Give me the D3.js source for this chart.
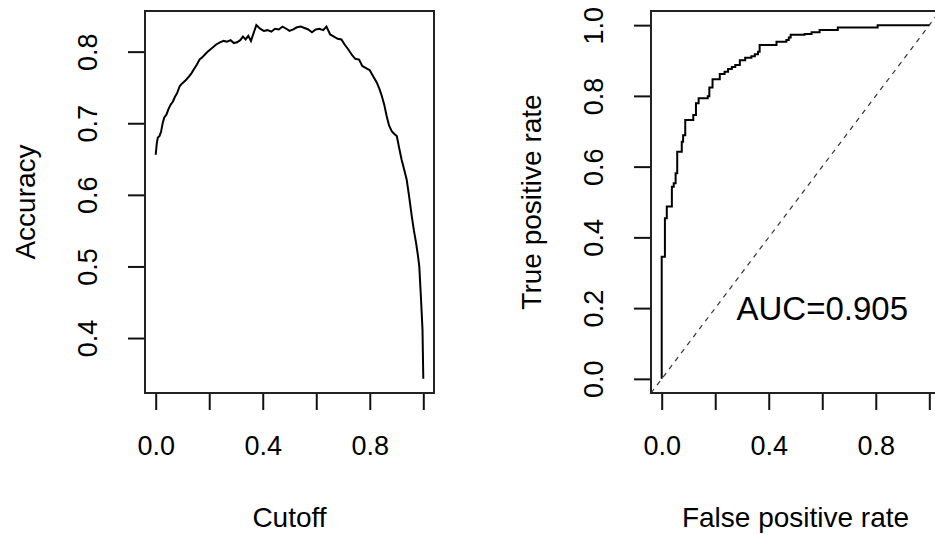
<!DOCTYPE html>
<html>
<head>
<meta charset="utf-8">
<script src="https://cdn.jsdelivr.net/npm/d3@7"></script>
<style>
  body { margin: 0; background: #fff; }
  text { font-family: "Liberation Sans", Arial, sans-serif; fill: #000; }
</style>
</head>
<body>
<svg></svg>
<script>
var width = 935;
var height = 535;

// accuracy vs cutoff
var cutoffs = [0.000, 0.004, 0.008, 0.014, 0.020, 0.026, 0.032, 0.040, 0.048, 0.056,
    0.064, 0.072, 0.080, 0.090, 0.100, 0.112, 0.124, 0.134, 0.144, 0.154,
    0.164, 0.174, 0.184, 0.194, 0.204, 0.214, 0.226, 0.240, 0.254, 0.266,
    0.280, 0.292, 0.304, 0.316, 0.326, 0.336, 0.346, 0.356, 0.366, 0.376,
    0.390, 0.404, 0.418, 0.432, 0.446, 0.460, 0.474, 0.488, 0.500, 0.514,
    0.528, 0.542, 0.556, 0.570, 0.584, 0.598, 0.612, 0.626, 0.638, 0.652,
    0.666, 0.680, 0.694, 0.706, 0.720, 0.734, 0.746, 0.760, 0.772, 0.786,
    0.800, 0.812, 0.826, 0.836, 0.845, 0.854, 0.863, 0.872, 0.882, 0.892,
    0.901, 0.910, 0.919, 0.928, 0.938, 0.947, 0.957, 0.965, 0.973, 0.980,
    0.985, 0.991, 0.997, 1.000];
var accuracy = [0.656, 0.672, 0.680, 0.682, 0.688, 0.700, 0.708, 0.712, 0.720, 0.726,
    0.730, 0.737, 0.742, 0.752, 0.756, 0.760, 0.765, 0.770, 0.776, 0.782,
    0.789, 0.792, 0.796, 0.800, 0.803, 0.806, 0.810, 0.813, 0.815, 0.814,
    0.816, 0.812, 0.813, 0.816, 0.821, 0.817, 0.822, 0.815, 0.826, 0.837,
    0.832, 0.829, 0.830, 0.828, 0.832, 0.831, 0.835, 0.832, 0.829, 0.831,
    0.834, 0.835, 0.833, 0.831, 0.827, 0.831, 0.832, 0.830, 0.835, 0.824,
    0.821, 0.818, 0.817, 0.810, 0.803, 0.795, 0.790, 0.789, 0.780, 0.777,
    0.774, 0.766, 0.757, 0.748, 0.738, 0.726, 0.710, 0.697, 0.689, 0.685,
    0.682, 0.665, 0.649, 0.636, 0.621, 0.598, 0.570, 0.550, 0.533, 0.515,
    0.500, 0.458, 0.412, 0.343];

// ROC curve (stair corners)
var fpr = [0, 0.012, 0.019, 0.038, 0.045, 0.052, 0.058, 0.075, 0.080, 0.088,
    0.118, 0.128, 0.138, 0.172, 0.178, 0.190, 0.217, 0.235, 0.248, 0.262,
    0.275, 0.292, 0.312, 0.335, 0.348, 0.360, 0.366, 0.429, 0.466, 0.475,
    0.482, 0.534, 0.560, 0.590, 0.658, 0.807, 1.000];
var tpr = [0, 0.345, 0.454, 0.487, 0.543, 0.553, 0.581, 0.642, 0.670, 0.689,
    0.732, 0.746, 0.779, 0.793, 0.799, 0.824, 0.847, 0.862, 0.868, 0.876,
    0.882, 0.887, 0.901, 0.908, 0.912, 0.918, 0.925, 0.944, 0.953, 0.958,
    0.965, 0.973, 0.975, 0.980, 0.986, 0.993, 1.000];

var xTicks = [0, 0.2, 0.4, 0.6, 0.8, 1.0];
var xLabeled = [0, 0.4, 0.8];
var accTicks = [0.4, 0.5, 0.6, 0.7, 0.8];
var rocTicks = [0, 0.2, 0.4, 0.6, 0.8, 1.0];
var aucLabel = "AUC=0.905";

var svg = d3.select('svg')
    .attr('width', width)
    .attr('height', height);

svg.append('rect').attr('width', width).attr('height', height).attr('fill', '#fff');

var fmt = d3.format('.1f');

// R style 4% padding
var pad = function (ext) {
    var d = (ext[1] - ext[0]) * 0.04;
    return [ext[0] - d, ext[1] + d];
};

var panel = function (o) {
    var g = svg.append('g').attr('transform', 'translate(' + o.left + ',' + o.top + ')');
    var w = o.w, h = o.h;

    var x = d3.scaleLinear().domain(pad(d3.extent(o.xs))).range([0, w]);
    var y = d3.scaleLinear().domain(pad(d3.extent(o.ys))).range([h, 0]);

    var xa = g.append('g')
        .attr('transform', 'translate(0,' + h + ')')
        .call(d3.axisBottom(x).tickValues(xTicks).tickSize(17)
            .tickFormat(function (d) { return xLabeled.indexOf(d) >= 0 ? fmt(d) : ''; }));
    xa.select('.domain').remove();
    xa.selectAll('line').attr('stroke', '#111').attr('stroke-width', 2);
    xa.selectAll('text').attr('y', 62).attr('dy', null)
        .style('font-size', '27px').style('font-family', '"Liberation Sans", Arial, sans-serif');

    var ya = g.append('g')
        .call(d3.axisLeft(y).tickValues(o.yTicks).tickSize(17).tickFormat(fmt));
    ya.select('.domain').remove();
    ya.selectAll('line').attr('stroke', '#111').attr('stroke-width', 2);
    ya.selectAll('text').attr('x', 0).attr('dy', null)
        .attr('text-anchor', 'middle')
        .attr('transform', 'translate(-48,0) rotate(-90)')
        .style('font-size', '27px').style('font-family', '"Liberation Sans", Arial, sans-serif');

    g.append('text')
        .attr('x', w / 2).attr('y', h + 134)
        .attr('text-anchor', 'middle')
        .style('font-size', '28px')
        .text(o.xTitle);

    g.append('text')
        .attr('transform', 'translate(-110,' + (h / 2) + ') rotate(-90)')
        .attr('text-anchor', 'middle')
        .style('font-size', '28px')
        .text(o.yTitle);

    var clip = 'clip' + o.id;
    g.append('clipPath').attr('id', clip)
        .append('rect').attr('width', w).attr('height', h);
    var plot = g.append('g').attr('clip-path', 'url(#' + clip + ')');

    return { g: g, plot: plot, x: x, y: y, w: w, h: h };
};

// left: accuracy
var p1 = panel({ id: 1, left: 145, top: 11, w: 289, h: 382, xs: cutoffs, ys: accuracy,
    yTicks: accTicks, xTitle: 'Cutoff', yTitle: 'Accuracy' });

var accLine = d3.line()
    .x(function (d, i) { return p1.x(cutoffs[i]); })
    .y(function (d) { return p1.y(d); });

p1.g.append('path')
    .datum(accuracy)
    .attr('d', accLine)
    .attr('fill', 'none')
    .attr('stroke', '#000')
    .attr('stroke-width', 2);

p1.g.append('rect').attr('width', p1.w).attr('height', p1.h)
    .attr('fill', 'none').attr('stroke', '#222').attr('stroke-width', 2);

// right: ROC
var p2 = panel({ id: 2, left: 651, top: 11, w: 289, h: 382, xs: fpr, ys: tpr,
    yTicks: rocTicks, xTitle: 'False positive rate', yTitle: 'True positive rate' });

var xd = p2.x.domain();
p2.plot.append('line')
    .attr('x1', p2.x(xd[0])).attr('y1', p2.y(xd[0]))
    .attr('x2', p2.x(xd[1])).attr('y2', p2.y(xd[1]))
    .attr('stroke', '#333')
    .attr('stroke-width', 1.2)
    .attr('stroke-dasharray', '5,5');

var rocLine = d3.line()
    .curve(d3.curveStepBefore)
    .x(function (d, i) { return p2.x(fpr[i]); })
    .y(function (d) { return p2.y(d); });

p2.plot.append('path')
    .datum(tpr)
    .attr('d', rocLine)
    .attr('fill', 'none')
    .attr('stroke', '#000')
    .attr('stroke-width', 2);

p2.g.append('text')
    .attr('x', p2.x(0.6)).attr('y', p2.y(0.2))
    .attr('dy', '0.35em')
    .attr('text-anchor', 'middle')
    .style('font-size', '33px')
    .text(aucLabel);

p2.g.append('rect').attr('width', p2.w).attr('height', p2.h)
    .attr('fill', 'none').attr('stroke', '#222').attr('stroke-width', 2);
</script>
</body>
</html>
